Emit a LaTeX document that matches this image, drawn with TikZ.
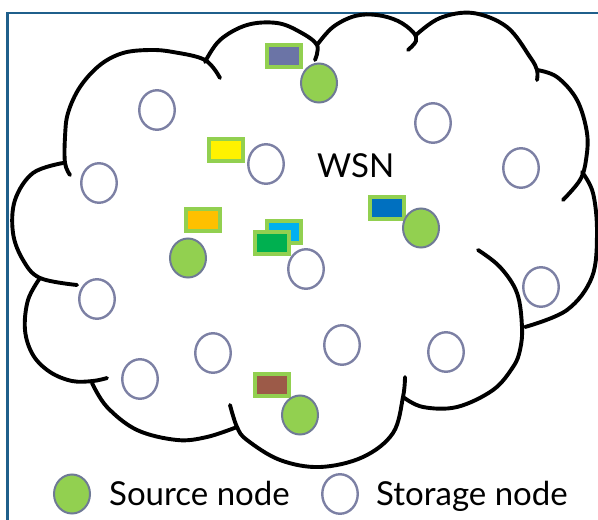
\documentclass[tikz,border=0pt]{standalone}
\usepackage{fontspec}
\setmainfont{Lato}
\usetikzlibrary{shapes.geometric}
\definecolor{framecol}{HTML}{1F5F8B}
\definecolor{leafgreen}{HTML}{92D050}
\definecolor{ringgrey}{HTML}{7C80A4}
\definecolor{rimgrey}{HTML}{6F7A96}
\definecolor{slate}{HTML}{6B74A6}
\definecolor{amber}{HTML}{FFC000}
\definecolor{skyblue}{HTML}{00B0F0}
\definecolor{grassgreen}{HTML}{00B050}
\definecolor{seablue}{HTML}{0070C0}
\definecolor{rust}{HTML}{9C5A48}
\begin{document}
\begin{tikzpicture}[x=1pt,y=-1pt,
	storagenode/.style={ellipse,draw=ringgrey,fill=white,line width=2.4pt,minimum width=35.5pt,minimum height=39.5pt,inner sep=0pt},
	sourcenode/.style={ellipse,draw=rimgrey,fill=leafgreen,line width=2pt,minimum width=36pt,minimum height=39pt,inner sep=0pt},
	packet/.style={rectangle,draw=leafgreen,line width=4pt,minimum width=34pt,minimum height=22pt,inner sep=0pt},
	cloudline/.style={black,line width=3.9pt,line cap=round},
	lbl/.style={inner sep=0pt,anchor=base west,font=\fontsize{33}{40}\selectfont}]
	\useasboundingbox (0,0) rectangle (598,520);
	% Frame
	\draw [framecol,line width=2.5pt] (7.5,521) -- (7.5,13) -- (599,13);
	% Cloud, one bump at a time
	\draw [cloudline] plot [smooth,tension=0.6] coordinates {(70,175) (65,163) (65,137) (68,113) (80,87) (100,65) (123,53) (150,50) (173,52) (205,60) (220,78)};
	\draw [cloudline] plot [smooth,tension=0.6] coordinates {(205,62) (220,40) (247,25) (277,23) (300,32) (317,45) (315,60)};
	\draw [cloudline] plot [smooth,tension=0.6] coordinates {(317,45) (333,27) (355,16) (377,15) (398,21) (413,32) (416,41) (408,50)};
	\draw [cloudline] plot [smooth,tension=0.6] coordinates {(416,35) (440,18) (473,13) (507,27) (530,57) (537,70) (537,80)};
	\draw [cloudline] plot [smooth,tension=0.6] coordinates {(537,70) (557,77) (577,100) (587,133) (586,160) (580,180) (563,200)};
	\draw [cloudline] plot [smooth,tension=0.6] coordinates {(582,172) (593,193) (597,233) (592,277) (567,310) (525,327)};
	\draw [cloudline] plot [smooth,tension=0.6] coordinates {(478,250) (500,267) (517,293) (522,327) (520,350) (513,367) (493,390) (457,407) (423,407) (403,397)};
	\draw [cloudline] plot [smooth,tension=0.6] coordinates {(405,377) (403,397) (393,433) (363,457) (320,467) (280,460) (247,440) (237,427) (230,405)};
	\draw [cloudline] plot [smooth,tension=0.6] coordinates {(237,427) (207,437) (177,440) (137,430) (107,407) (92,383)};
	\draw [cloudline] plot [smooth,tension=0.6] coordinates {(40,278) (28,300) (25,330) (33,355) (50,372) (72,381) (93,381) (107,378)};
	\draw [cloudline] plot [smooth,tension=0.6] coordinates {(63,163) (33,173) (15,200) (13,233) (23,260) (40,278) (77,285)};
	% Storage nodes
	\node [storagenode] (s1) at (157,110) {};
	\node [storagenode] (s2) at (266,164) {};
	\node [storagenode] (s3) at (99,183) {};
	\node [storagenode] (s4) at (433,123) {};
	\node [storagenode] (s5) at (521,168) {};
	\node [storagenode] (s6) at (306,269) {};
	\node [storagenode] (s7) at (97,299) {};
	\node [storagenode] (s8) at (541,287) {};
	\node [storagenode] (s9) at (213,353) {};
	\node [storagenode] (s10) at (342,345) {};
	\node [storagenode] (s11) at (446,352) {};
	\node [storagenode] (s12) at (140,379) {};
	% Data held by the sources
	\node [packet,fill=slate] (d1) at (284,56) {};
	\node [packet,fill=yellow] (d2) at (226,150) {};
	\node [packet,fill=amber] (d3) at (203,220) {};
	\node [packet,fill=skyblue] (d4) at (284,231.5) {};
	\node [packet,fill=grassgreen] (d5) at (272,242.5) {};
	\node [packet,fill=seablue] (d6) at (387,208) {};
	\node [packet,fill=rust] (d7) at (272,385) {};
	% Source nodes
	\node [sourcenode] (src1) at (319,83) {};
	\node [sourcenode] (src2) at (188,258) {};
	\node [sourcenode] (src3) at (421,228) {};
	\node [sourcenode] (src4) at (300,415) {};
	% Network name
	\node [lbl] (wsn) at (317,177) {WSN};
	% Legend
	\node [sourcenode] (legsrc) at (72,494) {};
	\node [lbl] (legsrctxt) at (109,505) {Source node};
	\node [storagenode] (legstor) at (340,494) {};
	\node [lbl] (legstortxt) at (376,505) {Storage node};
\end{tikzpicture}
\end{document}
